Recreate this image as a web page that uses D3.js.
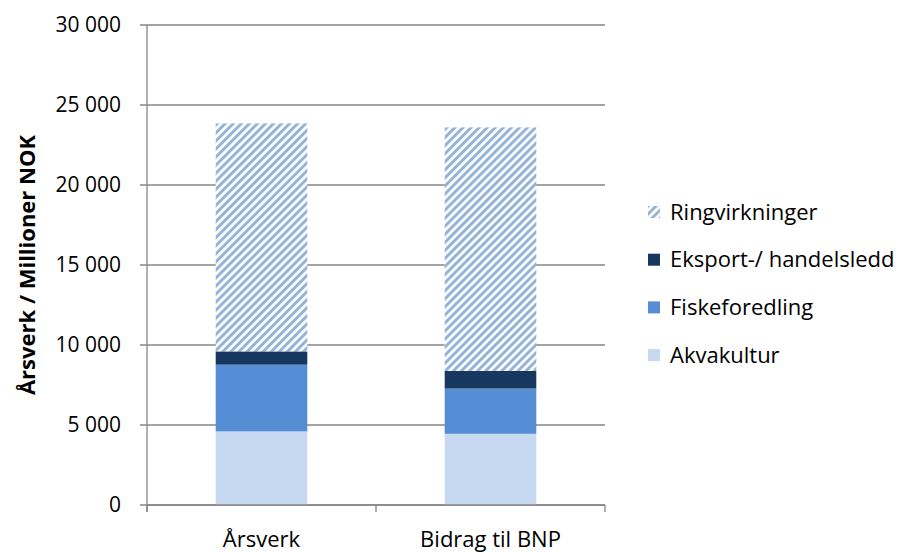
<!DOCTYPE html>
<html>
<head>
<meta charset="utf-8">
<script src="https://cdn.jsdelivr.net/npm/d3@7"></script>
<style>
  body { margin: 0; background: #fff; }
  text { font-family: "Open Sans", sans-serif; fill: #000; }
</style>
</head>
<body>
<script>
const categories = ["Årsverk", "Bidrag til BNP"];
const seriesNames = ["Akvakultur", "Fiskeforedling", "Eksport-/ handelsledd", "Ringvirkninger"];
const akvakultur = [4600, 4450];
const fiskeforedling = [4170, 2830];
const eksport = [830, 1100];
const ringvirkninger = [14250, 15220];
const yTicks = [0, 5000, 10000, 15000, 20000, 25000, 30000];

const colors = ["#c6d9f1", "#558ed5", "#17375e", "url(#hatch)"];

const width = 909, height = 552;
const plotLeft = 147, plotRight = 605, plotTop = 25, plotBottom = 505;

const rows = categories.map((c, i) => ({
    cat: c,
    Akvakultur: akvakultur[i],
    Fiskeforedling: fiskeforedling[i],
    "Eksport-/ handelsledd": eksport[i],
    Ringvirkninger: ringvirkninger[i]
}));

const svg = d3.select("body").append("svg")
    .attr("width", width)
    .attr("height", height);

// hatch pattern for Ringvirkninger
const pat = svg.append("defs").append("pattern")
    .attr("id", "hatch")
    .attr("patternUnits", "userSpaceOnUse")
    .attr("width", 5.7)
    .attr("height", 5.7)
    .attr("patternTransform", "rotate(45)");
pat.append("rect").attr("width", 5.7).attr("height", 5.7).attr("fill", "#fff");
pat.append("rect").attr("width", 3).attr("height", 5.7).attr("fill", "#95b3d7");

const x = d3.scaleBand()
    .domain(categories)
    .range([plotLeft, plotRight])
    .paddingInner(0.6)
    .paddingOuter(0.3);

const y = d3.scaleLinear()
    .domain([0, 30000])
    .range([plotBottom, plotTop]);

const fmt = v => d3.format(",")(v).replace(/,/g, " ");

// gridlines
svg.append("g")
    .selectAll("line")
    .data(yTicks)
    .enter()
    .append("line")
    .attr("x1", plotLeft - 7)
    .attr("x2", plotRight)
    .attr("y1", d => y(d))
    .attr("y2", d => y(d))
    .attr("stroke", "#868686")
    .attr("stroke-width", 1.3);

// y labels
svg.append("g")
    .selectAll("text")
    .data(yTicks)
    .enter()
    .append("text")
    .attr("x", 121)
    .attr("y", d => y(d))
    .attr("dy", "0.35em")
    .attr("text-anchor", "end")
    .style("font-size", "21px")
    .text(fmt);

// bars
const stack = d3.stack().keys(seriesNames);
const layers = svg.append("g")
    .selectAll("g")
    .data(stack(rows))
    .enter()
    .append("g")
    .attr("fill", (d, i) => colors[i]);

layers.selectAll("rect")
    .data(d => d)
    .enter()
    .append("rect")
    .attr("x", d => x(d.data.cat))
    .attr("width", x.bandwidth())
    .attr("y", d => y(d[1]))
    .attr("height", d => y(d[0]) - y(d[1]));

// axes lines
svg.append("line")
    .attr("x1", plotLeft).attr("x2", plotLeft)
    .attr("y1", plotTop).attr("y2", plotBottom + 7)
    .attr("stroke", "#868686").attr("stroke-width", 1.3);
svg.append("line")
    .attr("x1", plotLeft).attr("x2", plotRight)
    .attr("y1", plotBottom).attr("y2", plotBottom)
    .attr("stroke", "#868686").attr("stroke-width", 1.3);

const catTicks = [plotLeft, (x(categories[0]) + x.bandwidth() + x(categories[1])) / 2, plotRight];
svg.append("g")
    .selectAll("line")
    .data(catTicks)
    .enter()
    .append("line")
    .attr("x1", d => d).attr("x2", d => d)
    .attr("y1", plotBottom).attr("y2", plotBottom + 7)
    .attr("stroke", "#868686").attr("stroke-width", 1.3);

// x labels
svg.append("g")
    .selectAll("text")
    .data(categories)
    .enter()
    .append("text")
    .attr("x", d => x(d) + x.bandwidth() / 2)
    .attr("y", 547)
    .attr("text-anchor", "middle")
    .style("font-size", "22px")
    .text(d => d);

// y title
svg.append("text")
    .attr("transform", "translate(35, 265) rotate(-90)")
    .attr("text-anchor", "middle")
    .style("font-size", "22px")
    .style("font-weight", "bold")
    .text("Årsverk / Millioner NOK");

// legend
const legendNames = seriesNames.slice().reverse();
const legendColors = colors.slice().reverse();
const legend = svg.append("g")
    .selectAll("g")
    .data(legendNames)
    .enter()
    .append("g")
    .attr("transform", (d, i) => "translate(648," + (212 + i * 47.7) + ")");

legend.append("rect")
    .attr("x", 0)
    .attr("y", -6)
    .attr("width", 12)
    .attr("height", 12)
    .attr("fill", (d, i) => legendColors[i]);

legend.append("text")
    .attr("x", 22)
    .attr("dy", "0.35em")
    .style("font-size", "22px")
    .text(d => d);
</script>
</body>
</html>
